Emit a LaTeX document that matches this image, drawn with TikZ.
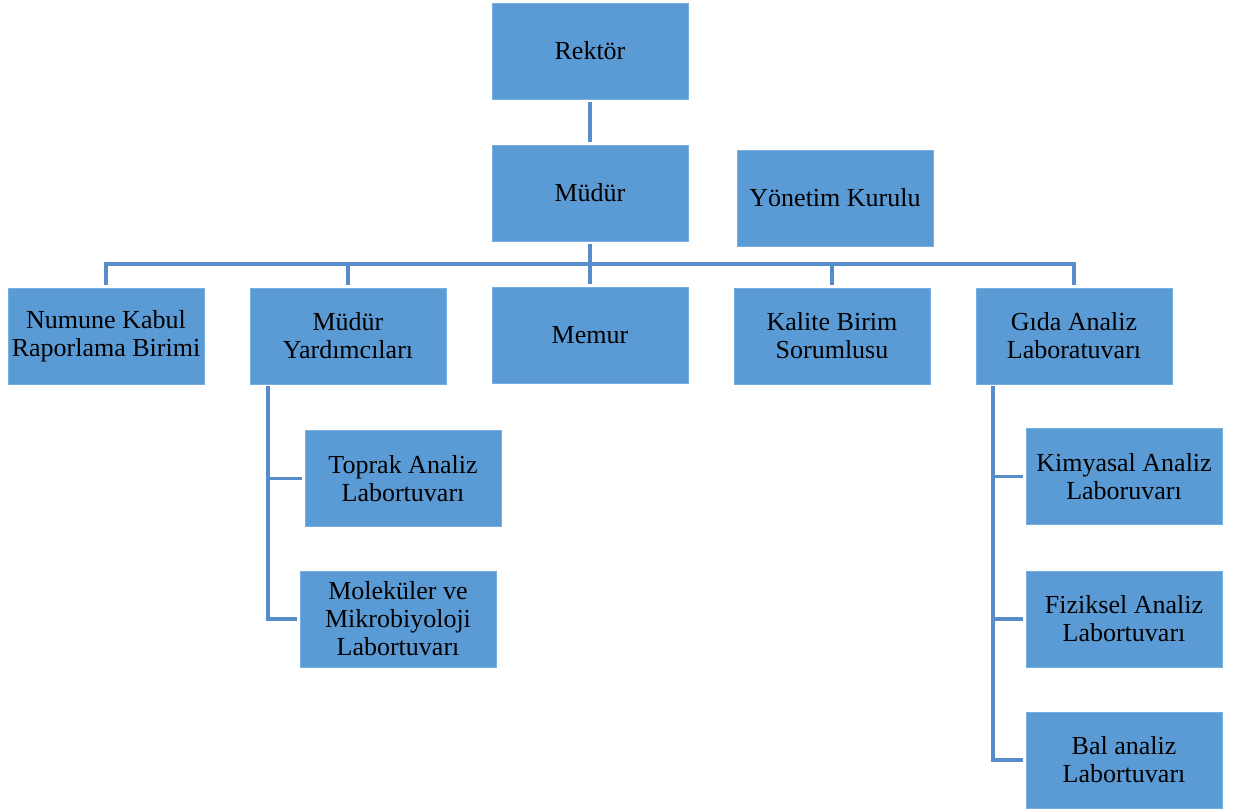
\documentclass[tikz,border=0pt]{standalone}
\usepackage{fontspec}
\setmainfont{Liberation Serif}
\definecolor{boxblue}{RGB}{91,155,213}
\definecolor{boxedge}{RGB}{120,175,225}
\definecolor{linkblue}{RGB}{86,140,200}
\begin{document}
\begin{tikzpicture}[x=1pt,y=-1pt,
  orgbox/.style={rectangle, fill=boxblue, draw=boxedge, line width=0.8pt,
    minimum width=196pt, minimum height=96pt, inner sep=0pt, outer sep=3pt,
    align=center, font=\fontsize{26}{28}\selectfont, text=black},
  link/.style={draw=linkblue, line width=3.3pt}]
\useasboundingbox (0,0) rectangle (1241,809);
\clip (0,0) rectangle (1241,809);

\node[orgbox] (rektor) at (590,51) {Rektör};
\node[orgbox] (mudur) at (590,193) {Müdür};
\node[orgbox] (yonetim) at (835,198) {Yönetim Kurulu};

\node[orgbox] (numune) at (106,336) {Numune Kabul\\Raporlama Birimi};
\node[orgbox] (myard) at (348,336) {Müdür\\Yardımcıları};
\node[orgbox] (memur) at (590,335) {Memur};
\node[orgbox] (kalite) at (832,336) {Kalite Birim\\Sorumlusu};
\node[orgbox] (gida) at (1074,336) {Gıda Analiz\\Laboratuvarı};

\node[orgbox] (toprak) at (403,478.5) {Toprak Analiz\\Labortuvarı};
\node[orgbox] (molek) at (398,619) {Moleküler ve\\Mikrobiyoloji\\Labortuvarı};

\node[orgbox] (kimya) at (1124,476.5) {Kimyasal Analiz\\Laboruvarı};
\node[orgbox] (fizik) at (1124,619) {Fiziksel Analiz\\Labortuvarı};
\node[orgbox] (bal) at (1124,760) {Bal analiz\\Labortuvarı};

\coordinate (bar) at (590,264);
\coordinate (ytrunk) at (268,386);
\coordinate (gtrunk) at (993,386);

\draw[link] (rektor) -- (mudur);
\draw[link] (mudur.south) -- (bar);
\draw[link] (bar) -| (numune.north);
\draw[link] (bar) -| (myard.north);
\draw[link] (bar) -- (memur.north);
\draw[link] (bar) -| (kalite.north);
\draw[link] (bar) -| (gida.north);

\draw[link] (ytrunk) |- (toprak.west);
\draw[link] (ytrunk) |- (molek.west);

\draw[link] (gtrunk) |- (kimya.west);
\draw[link] (gtrunk) |- (fizik.west);
\draw[link] (gtrunk) |- (bal.west);
\end{tikzpicture}
\end{document}
